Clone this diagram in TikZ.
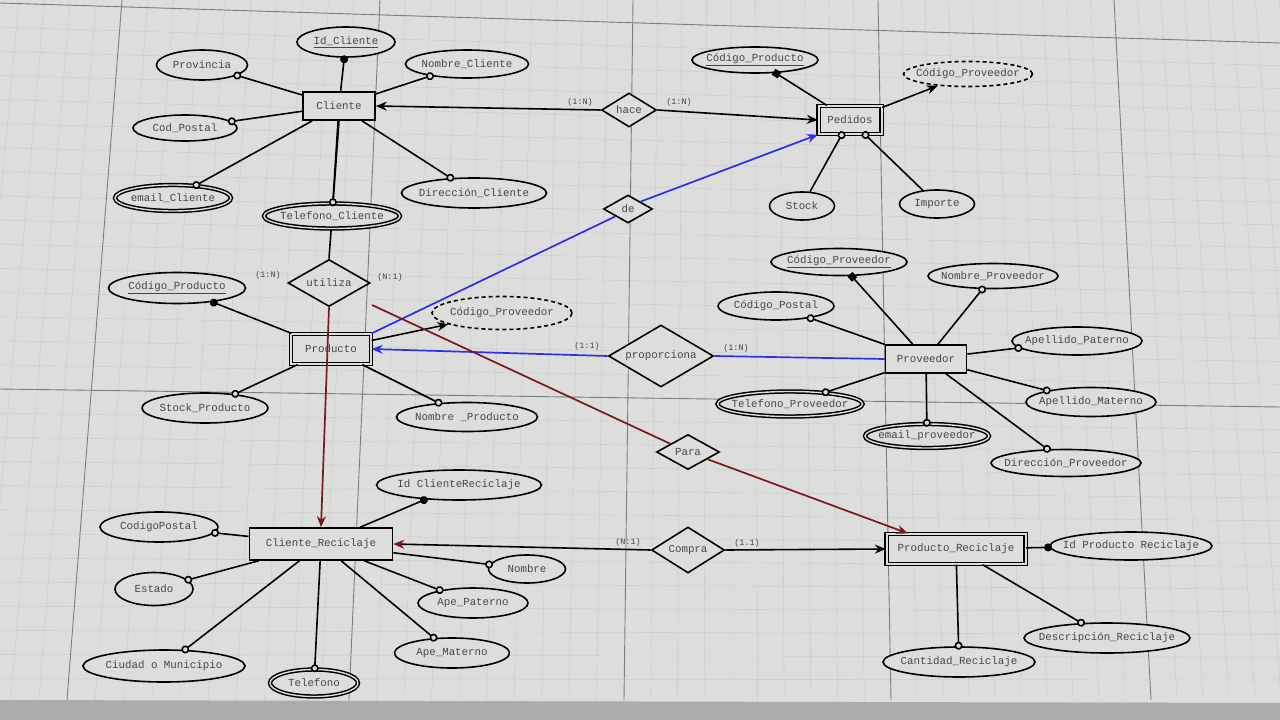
\documentclass[tikz,border=0pt]{standalone}
\usepackage{fontspec}
\setmonofont{Liberation Mono}
\usetikzlibrary{shapes.geometric,arrows.meta}
\pgfdeclarelayer{background}
\pgfsetlayers{background,main}
\definecolor{bgc}{RGB}{221,221,219}
\definecolor{minorc}{RGB}{207,207,205}
\definecolor{majorc}{RGB}{125,125,125}
\definecolor{barc}{RGB}{172,172,170}
\definecolor{txt}{RGB}{70,70,70}
\definecolor{erblue}{RGB}{45,45,235}
\definecolor{erred}{RGB}{120,25,30}
\newcommand{\mbx}[1]{\makebox[0pt]{#1}}
\tikzset{
  every node/.style={font=\ttfamily\fontsize{10.8}{12}\selectfont, text=txt},
  lbl/.style={font=\ttfamily\fontsize{8.5}{9}\selectfont, text=txt, inner sep=0pt},
  attr/.style 2 args={ellipse, draw=black, line width=1.6pt, fill=bgc,
    minimum width=#1, minimum height=#2, inner sep=0pt},
  mattr/.style 2 args={attr={#1}{#2}, double=bgc, double distance=1.4pt, line width=1.5pt},
  dattr/.style 2 args={attr={#1}{#2}, dash pattern=on 4pt off 3pt},
  ent/.style 2 args={rectangle, draw=black, line width=1.6pt, fill=bgc,
    minimum width=#1, minimum height=#2, inner sep=0pt},
  went/.style 2 args={ent={#1}{#2}, double=bgc, double distance=2pt, line width=1.3pt},
  rel/.style 2 args={diamond, draw=black, line width=1.6pt, fill=bgc,
    minimum width=#1, minimum height=#2, inner sep=0pt},
  conn/.style={draw=black, line width=1.6pt},
  opt/.style={conn, -{Circle[length=8pt,width=8pt,fill=bgc]}, shorten >=-3.5pt},
  optS/.style={conn, {Circle[length=8pt,width=8pt,fill=bgc]}-, shorten <=-3.5pt},
  keyd/.style={conn, -{Circle[length=8pt,width=8pt]}, shorten >=-2.5pt},
  sqk/.style={conn, -{Square[length=7pt,width=7pt]}, shorten >=-2.5pt},
  arr/.style={conn, -{Stealth[length=11pt,width=9pt]}},
  bluel/.style={draw=erblue, line width=1.7pt},
  redl/.style={draw=erred, line width=1.7pt},
  minorl/.style={draw=minorc, line width=0.6pt},
  majorl/.style={draw=majorc, line width=0.9pt}
}
\begin{document}
\begin{tikzpicture}[x=1pt,y=-1pt]
\useasboundingbox (0,0) rectangle (1280,720);

% ---------------- Cliente ----------------
\node[ent={72pt}{28pt}] (Cliente) at (339,106) {\mbx{Cliente}};
\node[attr={98pt}{30pt}] (IdC) at (346,42) {\mbx{\underline{Id\_Cliente}}};
\node[attr={91pt}{30pt}] (Prov) at (202,65) {\mbx{Provincia}};
\node[attr={123pt}{28pt}] (NomC) at (467,64) {\mbx{Nombre\_Cliente}};
\node[attr={104pt}{26pt}] (CodP) at (185,128) {\mbx{Cod\_Postal}};
\node[mattr={116pt}{26pt}] (EmC) at (173,198) {\mbx{email\_Cliente}};
\node[mattr={136pt}{25pt}] (TelC) at (332,216) {\mbx{Telefono\_Cliente}};
\node[attr={145pt}{30pt}] (DirC) at (474,193) {\mbx{Dirección\_Cliente}};

% ---------------- Pedidos ----------------
\node[rel={55pt}{34pt}] (hace) at (629,110) {\mbx{hace}};
\node[went={63pt}{28pt}] (Pedidos) at (850,120) {\mbx{Pedidos}};
\node[attr={126pt}{26pt}] (CPrPed) at (755,60) {\mbx{\underline{Código\_Producto}}};
\node[dattr={129pt}{25pt}] (CPvPed) at (968,74) {\mbx{Código\_Proveedor}};
\node[attr={65pt}{28pt}] (Stock) at (802,206) {\mbx{Stock}};
\node[attr={75pt}{28pt}] (Importe) at (937,204) {\mbx{Importe}};
\node[rel={49pt}{28pt}] (de) at (628,209) {\mbx{de}};

% ---------------- Producto ----------------
\node[rel={82pt}{47pt}] (utiliza) at (329,283) {\mbx{utiliza}};
\node[went={80pt}{30pt}] (Producto) at (331,349) {\mbx{Producto}};
\node[attr={137pt}{31pt}] (CPrPro) at (177,288) {\mbx{\underline{Código\_Producto}}};
\node[dattr={140pt}{33pt}] (CPvPro) at (502,313) {\mbx{Código\_Proveedor}};
\node[attr={126pt}{30pt}] (StockP) at (205,408) {\mbx{Stock\_Producto}};
\node[attr={141pt}{29pt}] (NomP) at (467,417) {\mbx{Nombre \_Producto}};

% ---------------- Proveedor ----------------
\node[rel={105pt}{62pt}] (prop) at (661,356) {\mbx{proporciona}};
\node[ent={81pt}{28pt}] (Proveedor) at (926,359) {\mbx{Proveedor}};
\node[attr={136pt}{27pt}] (CPvPv) at (839,262) {\mbx{\underline{Código\_Proveedor}}};
\node[attr={130pt}{25pt}] (NomPv) at (993,276) {\mbx{Nombre\_Proveedor}};
\node[attr={116pt}{28pt}] (CPost) at (776,306) {\mbx{Código\_Postal}};
\node[attr={130pt}{28pt}] (ApPat) at (1077,341) {\mbx{Apellido\_Paterno}};
\node[attr={130pt}{29pt}] (ApMat) at (1091,402) {\mbx{Apellido\_Materno}};
\node[mattr={145pt}{25pt}] (TelPv) at (790,404) {\mbx{Telefono\_Proveedor}};
\node[mattr={124pt}{24pt}] (EmPv) at (927,436) {\mbx{email\_proveedor}};
\node[attr={150pt}{27pt}] (DirPv) at (1066,463) {\mbx{Dirección\_Proveedor}};
\node[rel={63pt}{35pt}] (Para) at (688,452) {\mbx{Para}};

% ---------------- Cliente_Reciclaje ----------------
\node[ent={143pt}{32pt}] (CR) at (321,544) {\mbx{Cliente\_Reciclaje}};
\node[attr={165pt}{30pt}] (IdCR) at (459,485) {\mbx{Id ClienteReciclaje}};
\node[attr={118pt}{30pt}] (CodigoP) at (159,527) {\mbx{CodigoPostal}};
\node[attr={78pt}{33pt}] (Estado) at (154,589) {\mbx{Estado}};
\node[attr={162pt}{32pt}] (Ciudad) at (164,666) {\mbx{Ciudad o Municipio}};
\node[mattr={88pt}{27pt}] (Tel) at (314,683) {\mbx{Telefono}};
\node[attr={77pt}{28pt}] (Nombre) at (527,569) {\mbx{Nombre}};
\node[attr={110pt}{30pt}] (ApePat) at (473,603) {\mbx{Ape\_Paterno}};
\node[attr={115pt}{30pt}] (ApeMat) at (452,653) {\mbx{Ape\_Materno}};

% ---------------- Producto_Reciclaje ----------------
\node[rel={73pt}{46pt}] (Compra) at (688,550) {\mbx{Compra}};
\node[went={139pt}{30pt}] (PR) at (956,549) {\mbx{Producto\_Reciclaje}};
\node[attr={162pt}{28pt}] (IdPR) at (1131,546) {\mbx{Id Producto Reciclaje}};
\node[attr={152pt}{30pt}] (CantR) at (959,662) {\mbx{Cantidad\_Reciclaje}};
\node[attr={166pt}{30pt}] (DescR) at (1107,638) {\mbx{Descripción\_Reciclaje}};

% ---------------- cardinality labels ----------------
\node[lbl] (c1) at (580,102) {(1:N)};
\node[lbl] (c2) at (679,102) {(1:N)};
\node[lbl] (c3) at (268,275) {(1:N)};
\node[lbl] (c4) at (390,277) {(N:1)};
\node[lbl] (c5) at (587,346) {(1:1)};
\node[lbl] (c6) at (736,348) {(1:N)};
\node[lbl] (c7) at (628,542) {(N:1)};
\node[lbl] (c8) at (747,543) {(1.1)};

\coordinate (r1) at (372,305);

% ---------------- background: grid and lines under nodes ----------------
\begin{pgfonlayer}{background}
  \fill[bgc] (0,0) rectangle (1280,720);
  \foreach \ta/\ba/\tb/\bb in {122/67/380/349, 380/349/633/624, 633/624/878/891, 878/891/1114/1151}{
    \foreach \j in {1,...,9}{
      \draw[minorl] ({\ta+(\tb-\ta)*\j/10},0) -- ({\ba+(\bb-\ba)*\j/10},700);
    }
  }
  \foreach \j in {1,...,5}{\draw[minorl] ({122-25.8*\j},0) -- ({67-28.2*\j},700);}
  \foreach \j in {1,...,7}{\draw[minorl] ({1114+23.6*\j},0) -- ({1151+26*\j},700);}
  \foreach \j in {0,...,29}{\draw[minorl] (0,{3+\j*24.13}) -- (1280,{43+\j*22.75});}
  \foreach \t/\b in {122/67, 380/349, 633/624, 878/891, 1114/1151}{
    \draw[majorl] (\t,0) -- (\b,700);
  }
  \draw[majorl] (0,3) -- (1280,43);
  \draw[majorl] (0,389) -- (1280,407);
  \fill[barc] (0,700) -- (1280,703) -- (1280,720) -- (0,720) -- cycle;
  \draw[conn] (Cliente.south) -- (utiliza.north);
\end{pgfonlayer}

% ---------------- attribute connectors ----------------
\draw[keyd] (Cliente) -- (IdC);
\draw[opt] (Cliente) -- (Prov);
\draw[opt] (Cliente) -- (NomC);
\draw[opt] (Cliente) -- (CodP);
\draw[opt] (Cliente) -- (EmC);
\draw[opt] (Cliente) -- (TelC);
\draw[opt] (Cliente) -- (DirC);

\draw[sqk] (Pedidos) -- (CPrPed);
\draw[arr] (Pedidos) -- (CPvPed);
\draw[optS] (Pedidos) -- (Stock);
\draw[optS] (Pedidos) -- (Importe);

\draw[keyd] (Producto) -- (CPrPro);
\draw[arr] (Producto) -- (CPvPro);
\draw[opt] (Producto) -- (StockP);
\draw[opt] (Producto) -- (NomP);

\draw[sqk] (Proveedor) -- (CPvPv);
\draw[opt] (Proveedor) -- (NomPv);
\draw[opt] (Proveedor) -- (CPost);
\draw[opt] (Proveedor) -- (ApPat);
\draw[opt] (Proveedor) -- (ApMat);
\draw[opt] (Proveedor) -- (TelPv);
\draw[opt] (Proveedor) -- (EmPv);
\draw[opt] (Proveedor) -- (DirPv);

\draw[keyd] (CR) -- (IdCR);
\draw[opt] (CR) -- (CodigoP);
\draw[opt] (CR) -- (Estado);
\draw[opt] (CR) -- (Ciudad);
\draw[opt] (CR) -- (Tel);
\draw[opt] (CR) -- (Nombre);
\draw[opt] (CR) -- (ApePat);
\draw[opt] (CR) -- (ApeMat);

\draw[keyd] (PR) -- (IdPR);
\draw[opt] (PR) -- (CantR);
\draw[opt] (PR) -- (DescR);

% ---------------- relationship connectors ----------------
\draw[arr] (hace.west) -- (Cliente.east);
\draw[arr] (hace.east) -- (Pedidos.west);
\draw[bluel] (Producto.north east) -- (de.south west);
\draw[bluel, -{Stealth[length=11pt,width=9pt]}] (de.north east) -- (Pedidos.south west);
\draw[bluel] (Proveedor.west) -- (prop.east);
\draw[bluel, -{Stealth[length=11pt,width=9pt]}] (prop.west) -- (Producto.east);
\draw[redl, -{Stealth[length=11pt,width=9pt]}] (utiliza.south) -- (CR.north);
\draw[redl] (r1) -- (Para);
\draw[redl, -{Stealth[length=11pt,width=9pt]}] (Para) -- (PR.162);
\draw[conn, -{Stealth[length=11pt,width=9pt,color=erred]}] (Compra.west) -- (CR.east);
\draw[arr] (Compra.east) -- (PR.west);
\end{tikzpicture}
\end{document}
